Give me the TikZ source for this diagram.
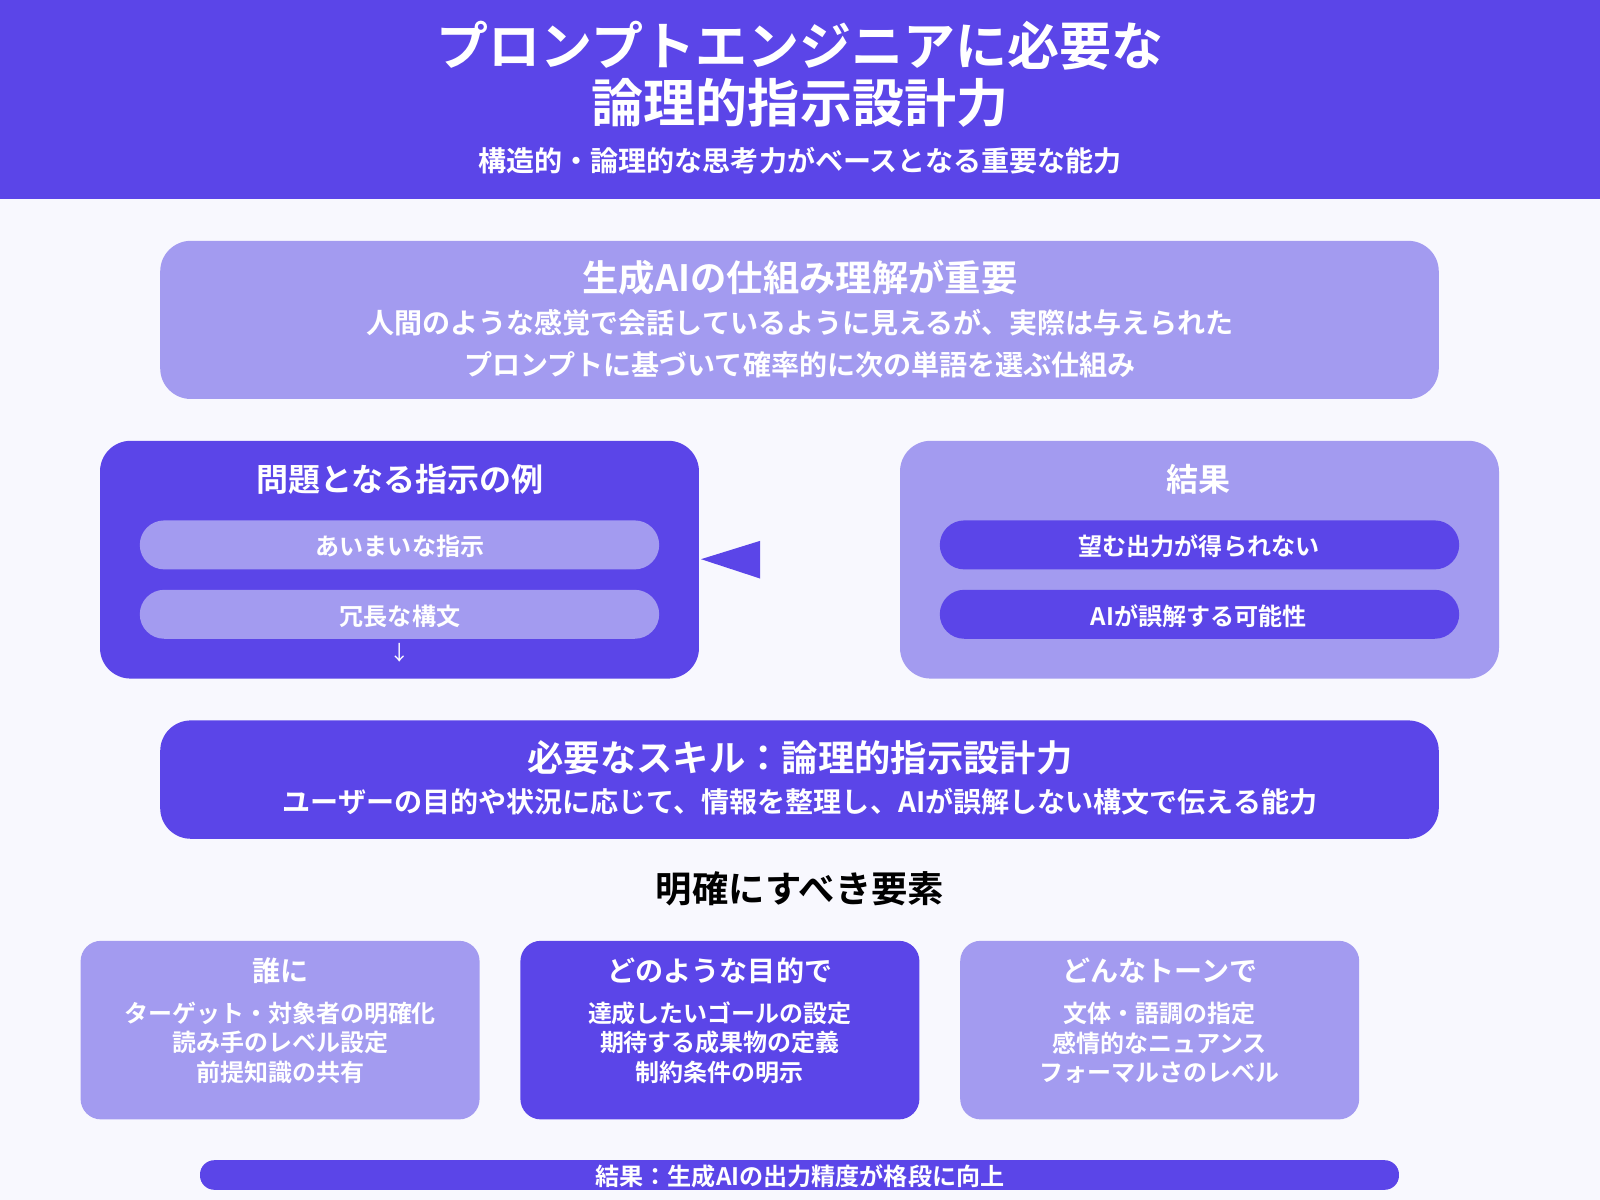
\documentclass[tikz,border=0pt]{standalone}
\usepackage{fontspec}
\setmainfont{Noto Sans CJK JP}[BoldFont={Noto Sans CJK JP Bold}]
\definecolor{dk}{HTML}{5B45E8}
\definecolor{lt}{HTML}{A39BF0}
\definecolor{bg}{HTML}{F8F8FE}
\begin{document}
\begin{tikzpicture}[x=0.5pt,y=-0.5pt,
  txt/.style={text=white,font=\bfseries,inner sep=0pt},
  big/.style={txt,font=\fontsize{17.8pt}{20pt}\bfseries},
  mid/.style={txt,font=\fontsize{13.75pt}{16pt}\bfseries},
  sm/.style={txt,font=\fontsize{11.8pt}{14pt}\bfseries}]
\fill[bg] (0,0) rectangle (1568,1176);
\useasboundingbox (0,0) rectangle (1568,1176);
\fill[dk] (0,0) rectangle (1568,195);
\node[txt,font=\fontsize{25.5pt}{28pt}\bfseries] (t1) at (784,45) {プロンプトエンジニアに必要な};
\node[txt,font=\fontsize{25.5pt}{28pt}\bfseries] (t2) at (784,101) {論理的指示設計力};
\node[mid] (t3) at (784,157) {構造的・論理的な思考力がベースとなる重要な能力};
% box1
\fill[lt,rounded corners=15pt] (157,236) rectangle (1410,391);
\node[big] (b1) at (784,272) {生成AIの仕組み理解が重要};
\node[mid] (b1a) at (784,316) {人間のような感覚で会話しているように見えるが、実際は与えられた};
\node[mid] (b1b) at (784,357) {プロンプトに基づいて確率的に次の単語を選ぶ仕組み};
% left
\fill[dk,rounded corners=15pt] (98,432) rectangle (685,665);
\node[txt,font=\fontsize{15.7pt}{18pt}\bfseries] (lt) at (392,470) {問題となる指示の例};
\fill[lt,rounded corners=12pt] (137,510) rectangle (646,558);
\node[sm] (l1) at (392,535) {あいまいな指示};
\fill[lt,rounded corners=12pt] (137,578) rectangle (646,626);
\node[sm] (l2) at (392,604) {冗長な構文};
\node[txt,font=\fontsize{9pt}{10pt}] (la) at (392,640) {↓};
\fill[dk] (687,548) -- (745,530) -- (745,567) -- cycle;
% right
\fill[lt,rounded corners=15pt] (882,432) rectangle (1469,665);
\node[txt,font=\fontsize{15.7pt}{18pt}\bfseries] (rt) at (1175,470) {結果};
\fill[dk,rounded corners=12pt] (921,510) rectangle (1430,558);
\node[sm] (r1) at (1175,535) {望む出力が得られない};
\fill[dk,rounded corners=12pt] (921,578) rectangle (1430,626);
\node[sm] (r2) at (1175,604) {AIが誤解する可能性};
% skill
\fill[dk,rounded corners=15pt] (157,706) rectangle (1410,822);
\node[big] (s1) at (784,743) {必要なスキル：論理的指示設計力};
\node[mid] (s2) at (784,786) {ユーザーの目的や状況に応じて、情報を整理し、AIが誤解しない構文で伝える能力};
\node[big,text=black] (h) at (784,871) {明確にすべき要素};
% three boxes
\foreach \x/\c/\a/\b/\cc/\d in {79/lt/誰に/ターゲット・対象者の明確化/読み手のレベル設定/前提知識の共有,
  510/dk/どのような目的で/達成したいゴールの設定/期待する成果物の定義/制約条件の明示,
  941/lt/どんなトーンで/文体・語調の指定/感情的なニュアンス/フォーマルさのレベル}{
  \fill[\c,rounded corners=10pt] (\x,922) rectangle ++(391,175);
  \node[mid] at (\x+195.5,951) {\a};
  \node[txt,font=\fontsize{11.75pt}{14pt}\bfseries] at (\x+195.5,993) {\b};
  \node[txt,font=\fontsize{11.75pt}{14pt}\bfseries] at (\x+195.5,1022) {\cc};
  \node[txt,font=\fontsize{11.75pt}{14pt}\bfseries] at (\x+195.5,1051) {\d};
}
\fill[dk,rounded corners=7pt] (196,1137) rectangle (1371,1166);
\node[sm] (bt) at (784,1153) {結果：生成AIの出力精度が格段に向上};
\end{tikzpicture}
\end{document}
